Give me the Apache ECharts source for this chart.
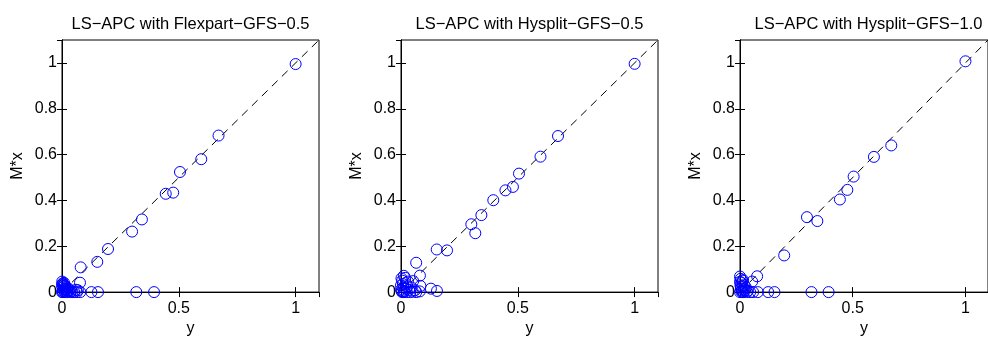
<!DOCTYPE html>
<html><head><meta charset="utf-8">
<script src="https://cdn.jsdelivr.net/npm/echarts@6/dist/echarts.min.js"></script>
<style>html,body{margin:0;padding:0;background:#fff}#c{width:988px;height:342px}</style>
</head><body><div id="c"></div>
<script>
const titles = ['LS\u2212APC with Flexpart\u2212GFS\u22120.5', 'LS\u2212APC with Hysplit\u2212GFS\u22120.5', 'LS\u2212APC with Hysplit\u2212GFS\u22121.0'];
const xName = 'y';
const yName = 'M*x';
const xTickLabels = ['0', '0.5', '1'];
const yTickLabels = ['0', '0.2', '0.4', '0.6', '0.8', '1'];
const refLine = [[0, 0], [1.1, 1.1]];

const flexpartGfs05 = [
  [1.0,0.995],[0.670,0.683],[0.596,0.580],[0.505,0.524],[0.476,0.434],[0.444,0.429],
  [0.342,0.317],[0.300,0.264],[0.197,0.188],[0.151,0.132],[0.080,0.108],[0.077,0.041],
  [0.318,0],[0.394,0],[0.154,0],[0.126,0],[0.078,0],[0.064,0],[0.052,0],[0.045,0],
  [0.001,0.046],[0.004,0.038],[0.008,0.032],[0.012,0.028],[0.016,0.022],[0.002,0.020],
  [0.006,0.012],[0.010,0.006],[0.000,0.000],[0.004,0.000],[0.012,0.000],[0.020,0.000],
  [0.028,0.004],[0.035,0.000],[0.060,0.010],[0.068,0.008],[0.020,0.012],[0.025,0.018],
  [0.000,0.030],[0.003,0.005],[0.015,0.008],[0.032,0.010],[0.040,0.004],[0.007,0.025],
  [0.009,0.040],[0.014,0.015],[0.024,0.006],[0.002,0.036]
];
const hysplitGfs05 = [
  [1.0,0.996],[0.672,0.681],[0.597,0.591],[0.505,0.517],[0.479,0.459],[0.447,0.444],
  [0.395,0.401],[0.344,0.336],[0.301,0.296],[0.318,0.257],[0.197,0.182],[0.153,0.186],
  [0.065,0.128],[0.081,0.072],[0.128,0.015],[0.154,0.005],[0.083,0.027],[0.080,0.003],
  [0.012,0.071],[0.018,0.062],[0.002,0.060],[0.030,0.046],[0.052,0.048],[0.005,0.050],
  [0.020,0.040],[0.045,0.020],[0.060,0.008],[0.050,0.002],[0.035,0.010],[0.010,0.020],
  [0.000,0.010],[0.015,0.005],[0.025,0.000],[0.005,0.000],[0.040,0.000],[0.065,0.000],
  [0.000,0.030],[0.008,0.035],[0.022,0.015],[0.003,0.004],[0.012,0.000],[0.028,0.025]
];
const hysplitGfs10 = [
  [1.0,1.007],[0.671,0.640],[0.594,0.590],[0.504,0.504],[0.476,0.446],[0.443,0.404],
  [0.343,0.310],[0.297,0.327],[0.196,0.160],[0.076,0.069],[0.054,0.046],
  [0.393,0],[0.317,0],[0.153,0],[0.125,0],[0.079,0],[0.058,0],[0.045,0],
  [0.000,0.068],[0.003,0.058],[0.010,0.050],[0.014,0.052],[0.006,0.040],[0.002,0.030],
  [0.012,0.025],[0.004,0.015],[0.008,0.008],[0.000,0.000],[0.015,0.000],[0.022,0.005],
  [0.030,0.000],[0.018,0.012],[0.026,0.020],[0.035,0.006],[0.000,0.045],[0.006,0.003],
  [0.010,0.000],[0.004,0.022],[0.020,0.030]
];
const datasets = [flexpartGfs05, hysplitGfs05, hysplitGfs10];

const FONT = '"Liberation Sans", Arial, Helvetica, sans-serif';
const gridLefts = [62, 401, 740];
const GW = 257, GT = 40, GH = 257;

const grids = [], xAxes = [], yAxes = [], series = [], title = [];
function fmt(labels) {
  return function (v) {
    for (const l of labels) if (Math.abs(parseFloat(l) - v) < 1e-6) return l;
    return '';
  };
}
datasets.forEach((d, i) => {
  grids.push({ left: gridLefts[i], top: GT, width: GW, height: GH, show: true, borderColor: '#000', borderWidth: 1, backgroundColor: 'transparent' });
  title.push({ text: titles[i], left: gridLefts[i] + GW / 2, top: 16, padding: 0, textAlign: 'center',
    textStyle: { fontFamily: FONT, fontSize: 16.5, fontWeight: 'normal', color: '#000' } });
  const common = {
    type: 'value', gridIndex: i, min: 0, max: 1.1,
    axisLine: { show: true, lineStyle: { color: '#000', width: 1 } },
    axisTick: { show: true, inside: true, length: 5, lineStyle: { color: '#000', width: 1 } },
    splitLine: { show: false }
  };
  xAxes.push(Object.assign({}, common, {
    position: 'bottom', interval: 0.5, name: xName, nameLocation: 'middle', nameGap: 20,
    nameTextStyle: { fontFamily: FONT, fontSize: 16, color: '#000' },
    axisLabel: { show: true, margin: 8, fontFamily: FONT, fontSize: 16, color: '#000', formatter: fmt(xTickLabels), showMaxLabel: false }
  }));
  xAxes.push(Object.assign({}, common, { position: 'top', interval: 0.5, axisLabel: { show: false } }));
  yAxes.push(Object.assign({}, common, {
    position: 'left', interval: 0.2, name: yName, nameLocation: 'middle', nameGap: 36, nameRotate: 90,
    nameTextStyle: { fontFamily: FONT, fontSize: 16, color: '#000' },
    axisLabel: { show: true, margin: 5, fontFamily: FONT, fontSize: 16, color: '#000', formatter: fmt(yTickLabels), showMaxLabel: false }
  }));
  yAxes.push(Object.assign({}, common, { position: 'right', interval: 0.2, axisLabel: { show: false } }));
  series.push({
    type: 'line', xAxisIndex: 2 * i, yAxisIndex: 2 * i, data: refLine, symbol: 'none', silent: true,
    lineStyle: { color: '#000', width: 1, type: [8, 6] }, z: 2
  });
  series.push({
    type: 'scatter', xAxisIndex: 2 * i, yAxisIndex: 2 * i, data: d, symbol: 'circle', symbolSize: 11,
    clip: false, itemStyle: { color: 'rgba(0,0,0,0)', borderColor: '#0000ff', borderWidth: 1, opacity: 1 },
    emphasis: { disabled: true }, z: 3
  });
});

const chart = echarts.init(document.getElementById('c'), null, { renderer: 'canvas' });
chart.setOption({ animation: false, backgroundColor: '#fff', title, grid: grids, xAxis: xAxes, yAxis: yAxes, series });
</script>
</body></html>
